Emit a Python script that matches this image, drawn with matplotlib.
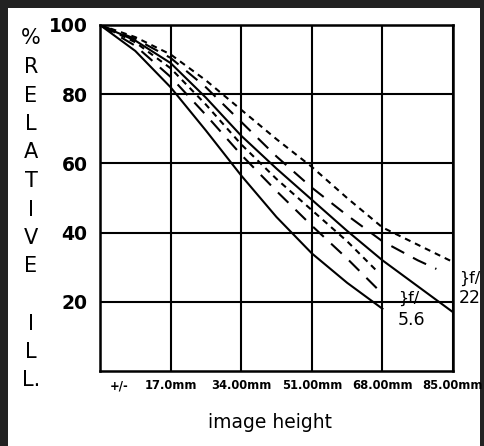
import matplotlib.pyplot as plt
from matplotlib.patches import Rectangle
from matplotlib.transforms import ScaledTranslation

x_ticks = [0, 17, 34, 51, 68, 85]
x_labels = ["+/-", "17.0mm", "34.00mm", "51.00mm", "68.00mm", "85.00mm"]
y_ticks = [20, 40, 60, 80, 100]
y_letters = ["%", "R", "E", "L", "A", "T", "I", "V", "E", "", "I", "L", "L."]

# f/5.6 curves (end near 68mm)
x_56 = [0, 8.5, 17, 25.5, 34, 42.5, 51, 59.5, 68]
x_56_dash = [0, 8.5, 17, 25.5, 34, 42.5, 51, 59.5, 67]
solid_56 = [100, 92.5, 82, 69.5, 56.5, 44.5, 34, 25.5, 18]
long_56 = [100, 94, 85, 74, 62.5, 52, 42, 32.5, 23.5]
short_56 = [100, 95, 87.5, 77, 65.5, 55.5, 46.5, 37.5, 28.5]

# f/22 curves (run out to 85mm)
x_22 = [0, 8.5, 17, 25.5, 34, 42.5, 51, 59.5, 68, 76.5, 85]
x_22_long = [0, 8.5, 17, 25.5, 34, 42.5, 51, 59.5, 68, 76.5, 81]
solid_22 = [100, 95.5, 89, 79, 68, 58.5, 49.5, 40.5, 32, 24.5, 17]
long_22 = [100, 96, 90.5, 82, 72, 62, 53, 45, 37.5, 32, 29.5]
short_22 = [100, 96.5, 91.5, 84, 75.5, 67, 59, 50, 41.5, 36.5, 31.5]

fig = plt.figure(figsize=(4.84, 4.46), dpi=100, facecolor="#222222")
fig.patches.append(Rectangle((8 / 484, 0), 472 / 484, 1 - 8 / 446,
                             transform=fig.transFigure, facecolor="white",
                             edgecolor="none", zorder=-5))

ax = fig.add_axes([100 / 484, 1 - 371 / 446, 353 / 484, 346 / 446])
ax.set_xlim(0, 85)
ax.set_ylim(0, 100)
ax.set_facecolor("none")

lw = 1.5
short = (2.9, 2.4)
longd = (7.0, 4.8)
ax.plot(x_56, solid_56, color="black", lw=lw)
ax.plot(x_56_dash, long_56, color="black", lw=lw, dashes=longd)
ax.plot(x_56_dash, short_56, color="black", lw=lw, dashes=short)
ax.plot(x_22, solid_22, color="black", lw=lw)
ax.plot(x_22_long, long_22, color="black", lw=lw, dashes=longd)
ax.plot(x_22, short_22, color="black", lw=lw, dashes=short)

ax.set_xticks(x_ticks)
ax.set_xticklabels(x_labels, family="DejaVu Sans", fontweight="bold", fontsize=8.3)
ax.set_yticks(y_ticks)
ax.set_yticklabels([str(v) for v in y_ticks], family="DejaVu Sans",
                   fontweight="bold", fontsize=13.5)
ax.tick_params(axis="x", length=0, pad=6)
ax.tick_params(axis="y", length=0, pad=9)
first = ax.get_xticklabels()[0]
first.set_transform(first.get_transform() + ScaledTranslation(0.19, 0, fig.dpi_scale_trans))

ax.grid(True, color="black", lw=1.5)
for s in ax.spines.values():
    s.set_linewidth(1.8)

# vertical y-label, one letter per row
for i, ch in enumerate(y_letters):
    fig.text(31 / 484, 1 - (38.5 + i * 28.5) / 446, ch, family="DejaVu Sans",
             fontsize=15, ha="center", va="center")

fig.text(270 / 484, 1 - 423 / 446, "image height", family="DejaVu Sans",
         fontsize=13.5, ha="center", va="center")

ax.text(71.8, 21.1, "}f/", family="DejaVu Sans", fontsize=11.5, ha="left",
        va="center", clip_on=False)
ax.text(71.8, 14.7, "5.6", family="DejaVu Sans", fontsize=12.5, ha="left",
        va="center", clip_on=False)
ax.text(86.5, 26.9, "}f/", family="DejaVu Sans", fontsize=11.5, ha="left",
        va="center", clip_on=False)
ax.text(86.5, 21.1, "22", family="DejaVu Sans", fontsize=12.5, ha="left",
        va="center", clip_on=False)

fig.savefig("out.png", dpi=100, facecolor=fig.get_facecolor())
